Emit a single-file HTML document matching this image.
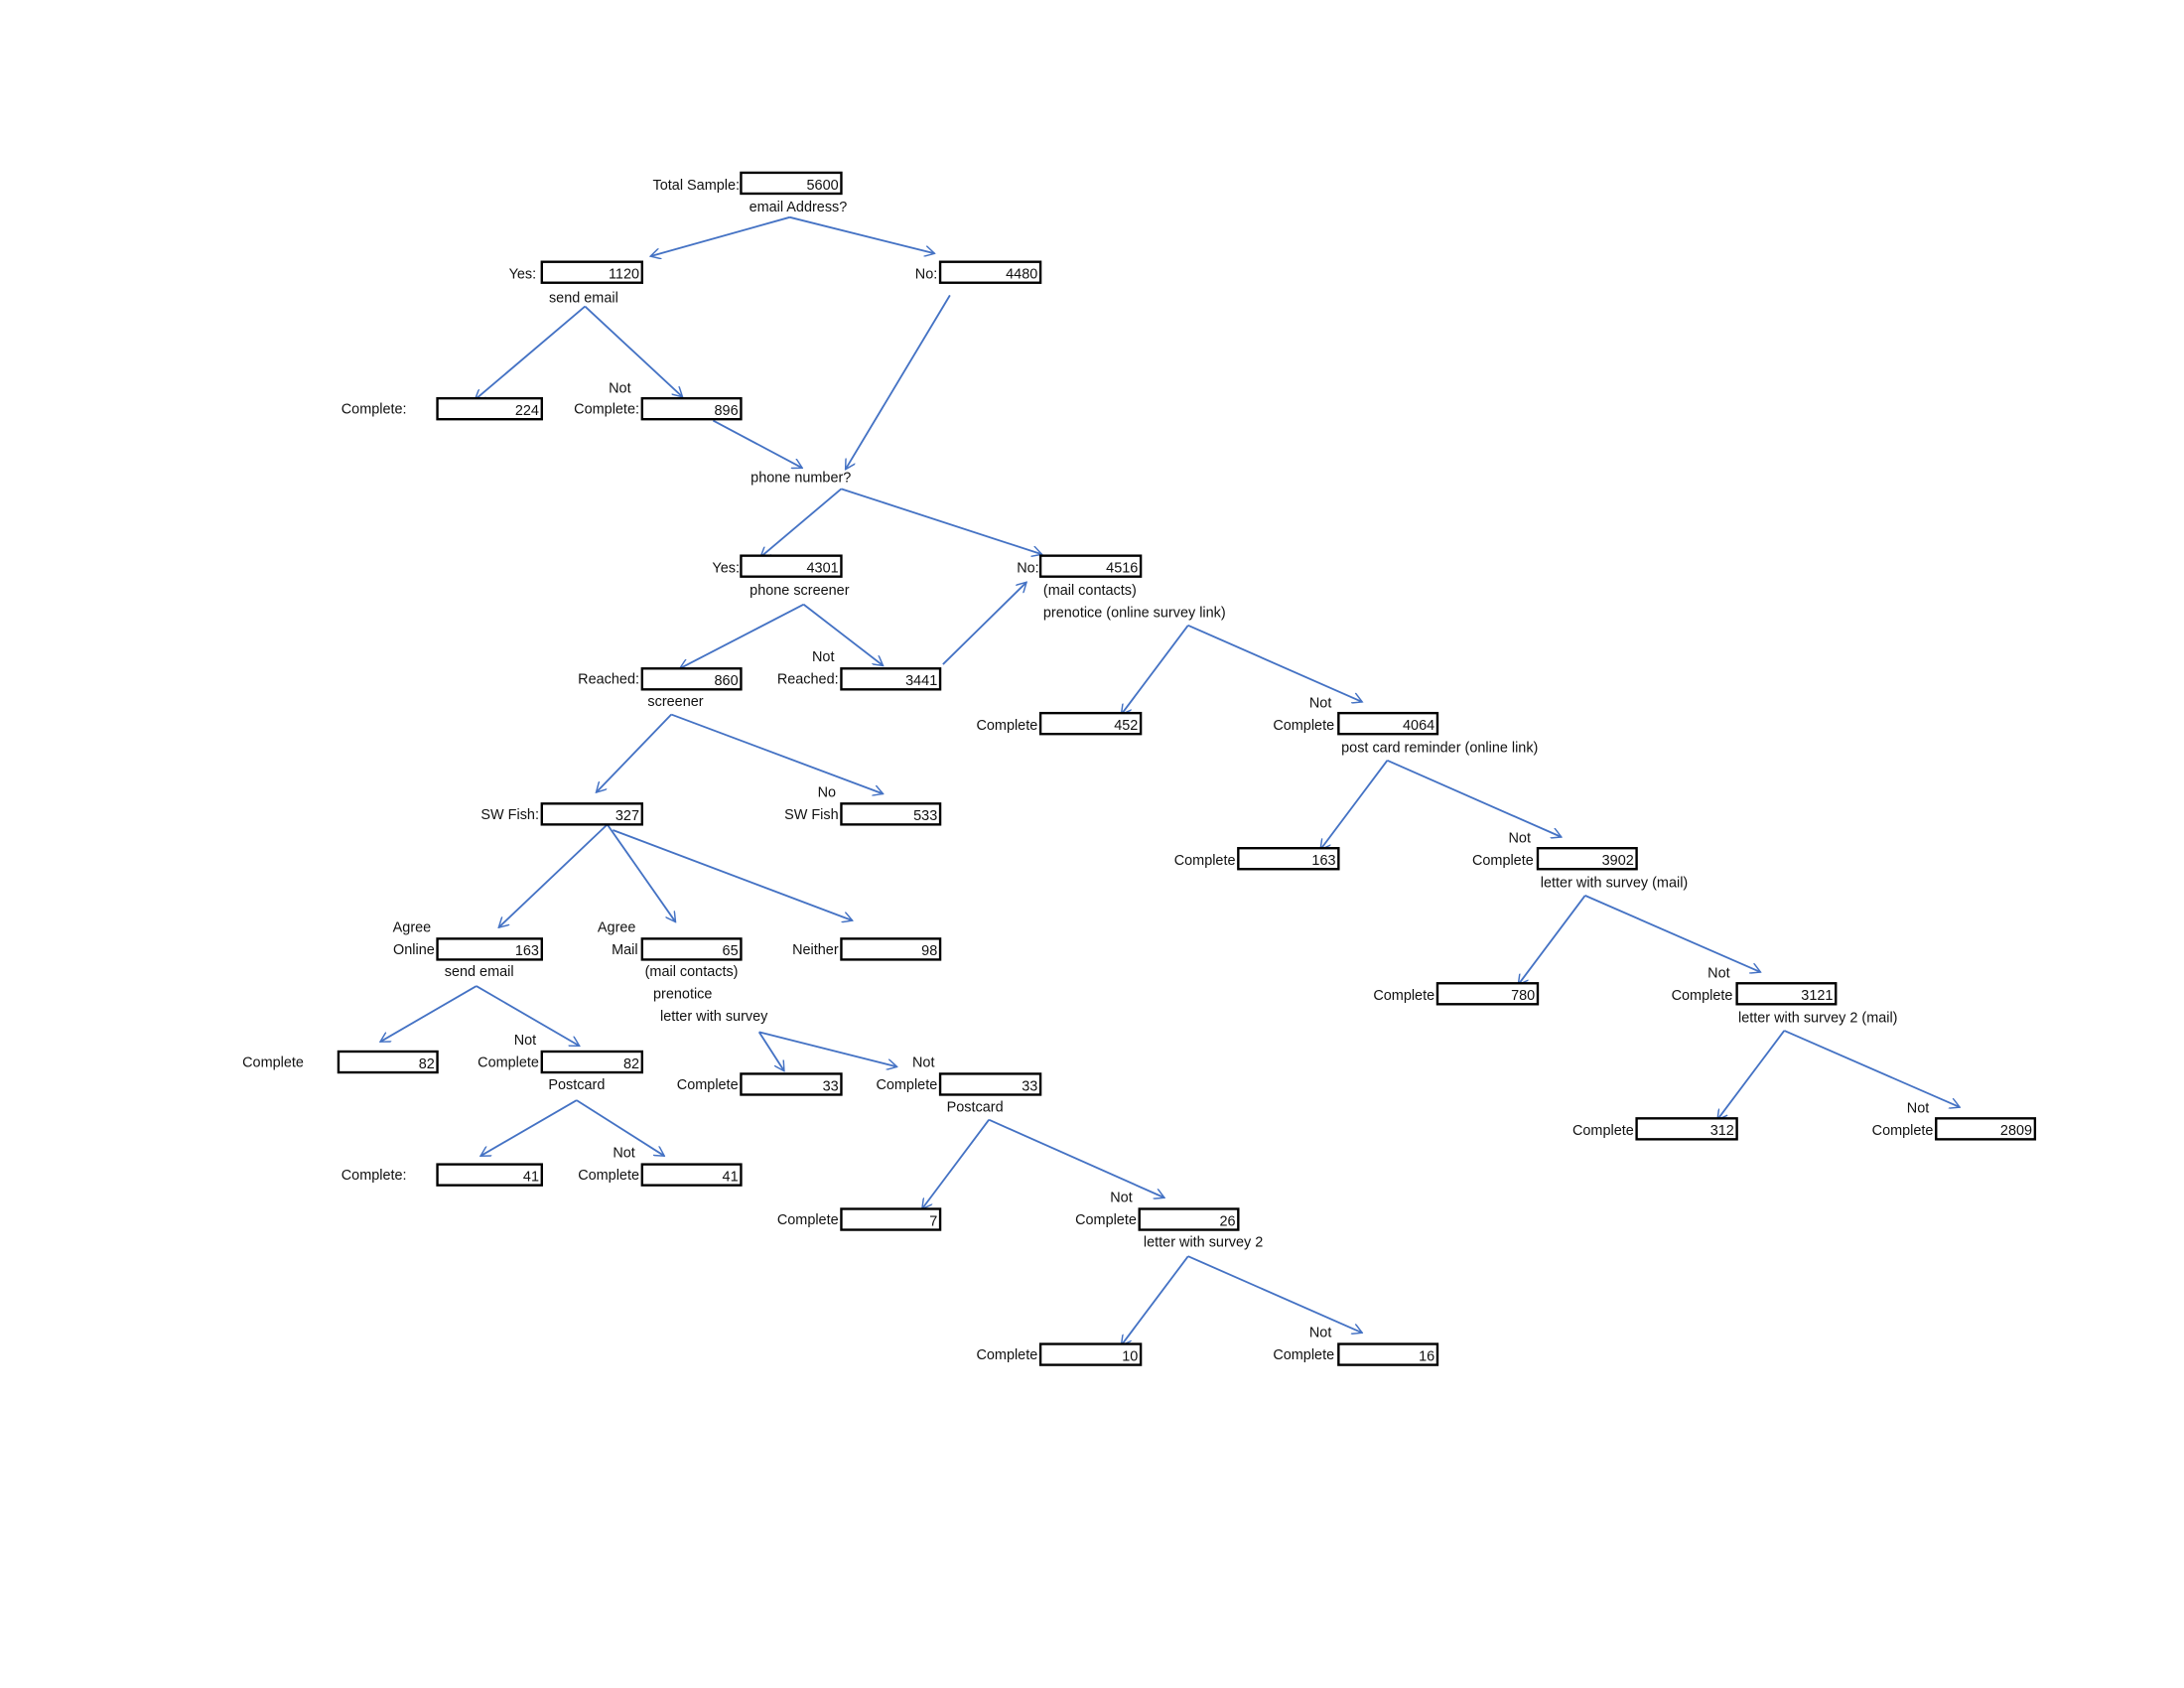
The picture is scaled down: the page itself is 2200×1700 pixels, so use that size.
<!DOCTYPE html>
<html><head><meta charset="utf-8"><style>
html,body{margin:0;padding:0;background:#fff;}
svg{display:block;}
text{font-family:"Liberation Sans",sans-serif;font-size:10.3px;fill:#111;}
.b{fill:#fff;stroke:#000;stroke-width:1.7;}
.a{stroke:#4472C4;stroke-width:1.3;fill:none;marker-end:url(#m);}
</style></head><body>
<svg width="2200" height="1700" viewBox="0 0 1568 1212" preserveAspectRatio="none" xmlns="http://www.w3.org/2000/svg">
<defs><marker id="m" viewBox="0 0 10 10" refX="9" refY="5" markerWidth="8" markerHeight="8" orient="auto" markerUnits="userSpaceOnUse"><path d="M0,0 L9,5 L0,10" fill="none" stroke="#4472C4" stroke-width="1.3"/></marker></defs>
<g id="arrows">
<line class="a" x1="567" y1="156" x2="467" y2="184"/>
<line class="a" x1="567" y1="156" x2="671" y2="182"/>
<line class="a" x1="420" y1="220" x2="341" y2="287"/>
<line class="a" x1="420" y1="220" x2="490" y2="285"/>
<line class="a" x1="512" y1="302" x2="576" y2="336"/>
<line class="a" x1="682" y1="212" x2="607" y2="337"/>
<line class="a" x1="604" y1="351" x2="546" y2="400"/>
<line class="a" x1="604" y1="351" x2="748" y2="398"/>
<line class="a" x1="577" y1="434" x2="488" y2="480"/>
<line class="a" x1="577" y1="434" x2="634" y2="478"/>
<line class="a" x1="677" y1="477" x2="737" y2="418"/>
<line class="a" x1="482" y1="513" x2="428" y2="569"/>
<line class="a" x1="482" y1="513" x2="634" y2="570"/>
<line class="a" x1="436" y1="592" x2="358" y2="666"/>
<line class="a" x1="436" y1="592" x2="485" y2="662"/>
<line class="a" x1="440" y1="596" x2="612" y2="661"/>
<line class="a" x1="342" y1="708" x2="273" y2="748"/>
<line class="a" x1="342" y1="708" x2="416" y2="751"/>
<line class="a" x1="545" y1="741" x2="563" y2="769"/>
<line class="a" x1="545" y1="741" x2="644" y2="766"/>
<line class="a" x1="414" y1="790" x2="345" y2="830"/>
<line class="a" x1="414" y1="790" x2="477" y2="830"/>
<line class="a" x1="710" y1="804" x2="662" y2="868"/>
<line class="a" x1="710" y1="804" x2="836" y2="860"/>
<line class="a" x1="853" y1="902" x2="805" y2="966"/>
<line class="a" x1="853" y1="902" x2="978" y2="957"/>
<line class="a" x1="853" y1="449" x2="805" y2="513"/>
<line class="a" x1="853" y1="449" x2="978" y2="504"/>
<line class="a" x1="996" y1="546" x2="948" y2="610"/>
<line class="a" x1="996" y1="546" x2="1121" y2="601"/>
<line class="a" x1="1138" y1="643" x2="1090" y2="707"/>
<line class="a" x1="1138" y1="643" x2="1264" y2="698"/>
<line class="a" x1="1281" y1="740" x2="1233" y2="804"/>
<line class="a" x1="1281" y1="740" x2="1407" y2="795"/>
</g>
<g id="boxes">
<rect class="b" x="532" y="124" width="72" height="15"/><text x="602" y="136" text-anchor="end">5600</text>
<rect class="b" x="389" y="188" width="72" height="15"/><text x="459" y="200" text-anchor="end">1120</text>
<rect class="b" x="675" y="188" width="72" height="15"/><text x="745" y="200" text-anchor="end">4480</text>
<rect class="b" x="314" y="286" width="75" height="15"/><text x="387" y="298" text-anchor="end">224</text>
<rect class="b" x="461" y="286" width="71" height="15"/><text x="530" y="298" text-anchor="end">896</text>
<rect class="b" x="532" y="399" width="72" height="15"/><text x="602" y="411" text-anchor="end">4301</text>
<rect class="b" x="747" y="399" width="72" height="15"/><text x="817" y="411" text-anchor="end">4516</text>
<rect class="b" x="461" y="480" width="71" height="15"/><text x="530" y="492" text-anchor="end">860</text>
<rect class="b" x="604" y="480" width="71" height="15"/><text x="673" y="492" text-anchor="end">3441</text>
<rect class="b" x="389" y="577" width="72" height="15"/><text x="459" y="589" text-anchor="end">327</text>
<rect class="b" x="604" y="577" width="71" height="15"/><text x="673" y="589" text-anchor="end">533</text>
<rect class="b" x="314" y="674" width="75" height="15"/><text x="387" y="686" text-anchor="end">163</text>
<rect class="b" x="461" y="674" width="71" height="15"/><text x="530" y="686" text-anchor="end">65</text>
<rect class="b" x="604" y="674" width="71" height="15"/><text x="673" y="686" text-anchor="end">98</text>
<rect class="b" x="243" y="755" width="71" height="15"/><text x="312" y="767" text-anchor="end">82</text>
<rect class="b" x="389" y="755" width="72" height="15"/><text x="459" y="767" text-anchor="end">82</text>
<rect class="b" x="532" y="771" width="72" height="15"/><text x="602" y="783" text-anchor="end">33</text>
<rect class="b" x="675" y="771" width="72" height="15"/><text x="745" y="783" text-anchor="end">33</text>
<rect class="b" x="314" y="836" width="75" height="15"/><text x="387" y="848" text-anchor="end">41</text>
<rect class="b" x="461" y="836" width="71" height="15"/><text x="530" y="848" text-anchor="end">41</text>
<rect class="b" x="604" y="868" width="71" height="15"/><text x="673" y="880" text-anchor="end">7</text>
<rect class="b" x="818" y="868" width="71" height="15"/><text x="887" y="880" text-anchor="end">26</text>
<rect class="b" x="747" y="965" width="72" height="15"/><text x="817" y="977" text-anchor="end">10</text>
<rect class="b" x="961" y="965" width="71" height="15"/><text x="1030" y="977" text-anchor="end">16</text>
<rect class="b" x="747" y="512" width="72" height="15"/><text x="817" y="524" text-anchor="end">452</text>
<rect class="b" x="961" y="512" width="71" height="15"/><text x="1030" y="524" text-anchor="end">4064</text>
<rect class="b" x="889" y="609" width="72" height="15"/><text x="959" y="621" text-anchor="end">163</text>
<rect class="b" x="1104" y="609" width="71" height="15"/><text x="1173" y="621" text-anchor="end">3902</text>
<rect class="b" x="1032" y="706" width="72" height="15"/><text x="1102" y="718" text-anchor="end">780</text>
<rect class="b" x="1247" y="706" width="71" height="15"/><text x="1316" y="718" text-anchor="end">3121</text>
<rect class="b" x="1175" y="803" width="72" height="15"/><text x="1245" y="815" text-anchor="end">312</text>
<rect class="b" x="1390" y="803" width="71" height="15"/><text x="1459" y="815" text-anchor="end">2809</text>
</g>
<g id="labels">
<text x="531" y="136" text-anchor="end">Total Sample:</text>
<text x="573" y="152" text-anchor="middle">email Address?</text>
<text x="385" y="200" text-anchor="end">Yes:</text>
<text x="419" y="217" text-anchor="middle">send email</text>
<text x="673" y="200" text-anchor="end">No:</text>
<text x="245" y="297">Complete:</text>
<text x="437" y="282">Not</text>
<text x="459" y="297" text-anchor="end">Complete:</text>
<text x="575" y="346" text-anchor="middle">phone number?</text>
<text x="531" y="411" text-anchor="end">Yes:</text>
<text x="574" y="427" text-anchor="middle">phone screener</text>
<text x="746" y="411" text-anchor="end">No:</text>
<text x="749" y="427">(mail contacts)</text>
<text x="749" y="443">prenotice (online survey link)</text>
<text x="459" y="491" text-anchor="end">Reached:</text>
<text x="583" y="475">Not</text>
<text x="602" y="491" text-anchor="end">Reached:</text>
<text x="485" y="507" text-anchor="middle">screener</text>
<text x="387" y="588" text-anchor="end">SW Fish:</text>
<text x="587" y="572">No</text>
<text x="602" y="588" text-anchor="end">SW Fish</text>
<text x="282" y="669">Agree</text>
<text x="312" y="685" text-anchor="end">Online</text>
<text x="344" y="701" text-anchor="middle">send email</text>
<text x="429" y="669">Agree</text>
<text x="458" y="685" text-anchor="end">Mail</text>
<text x="463" y="701">(mail contacts)</text>
<text x="469" y="717">prenotice</text>
<text x="474" y="733">letter with survey</text>
<text x="602" y="685" text-anchor="end">Neither</text>
<text x="174" y="766">Complete</text>
<text x="369" y="750">Not</text>
<text x="387" y="766" text-anchor="end">Complete</text>
<text x="414" y="782" text-anchor="middle">Postcard</text>
<text x="530" y="782" text-anchor="end">Complete</text>
<text x="655" y="766">Not</text>
<text x="673" y="782" text-anchor="end">Complete</text>
<text x="700" y="798" text-anchor="middle">Postcard</text>
<text x="245" y="847">Complete:</text>
<text x="440" y="831">Not</text>
<text x="459" y="847" text-anchor="end">Complete</text>
<text x="602" y="879" text-anchor="end">Complete</text>
<text x="797" y="863">Not</text>
<text x="816" y="879" text-anchor="end">Complete</text>
<text x="821" y="895">letter with survey 2</text>
<text x="745" y="976" text-anchor="end">Complete</text>
<text x="940" y="960">Not</text>
<text x="958" y="976" text-anchor="end">Complete</text>
<text x="745" y="524" text-anchor="end">Complete</text>
<text x="940" y="508">Not</text>
<text x="958" y="524" text-anchor="end">Complete</text>
<text x="963" y="540">post card reminder (online link)</text>
<text x="887" y="621" text-anchor="end">Complete</text>
<text x="1083" y="605">Not</text>
<text x="1101" y="621" text-anchor="end">Complete</text>
<text x="1106" y="637">letter with survey (mail)</text>
<text x="1030" y="718" text-anchor="end">Complete</text>
<text x="1226" y="702">Not</text>
<text x="1244" y="718" text-anchor="end">Complete</text>
<text x="1248" y="734">letter with survey 2 (mail)</text>
<text x="1173" y="815" text-anchor="end">Complete</text>
<text x="1369" y="799">Not</text>
<text x="1388" y="815" text-anchor="end">Complete</text>
</g>
</svg>
</body></html>
